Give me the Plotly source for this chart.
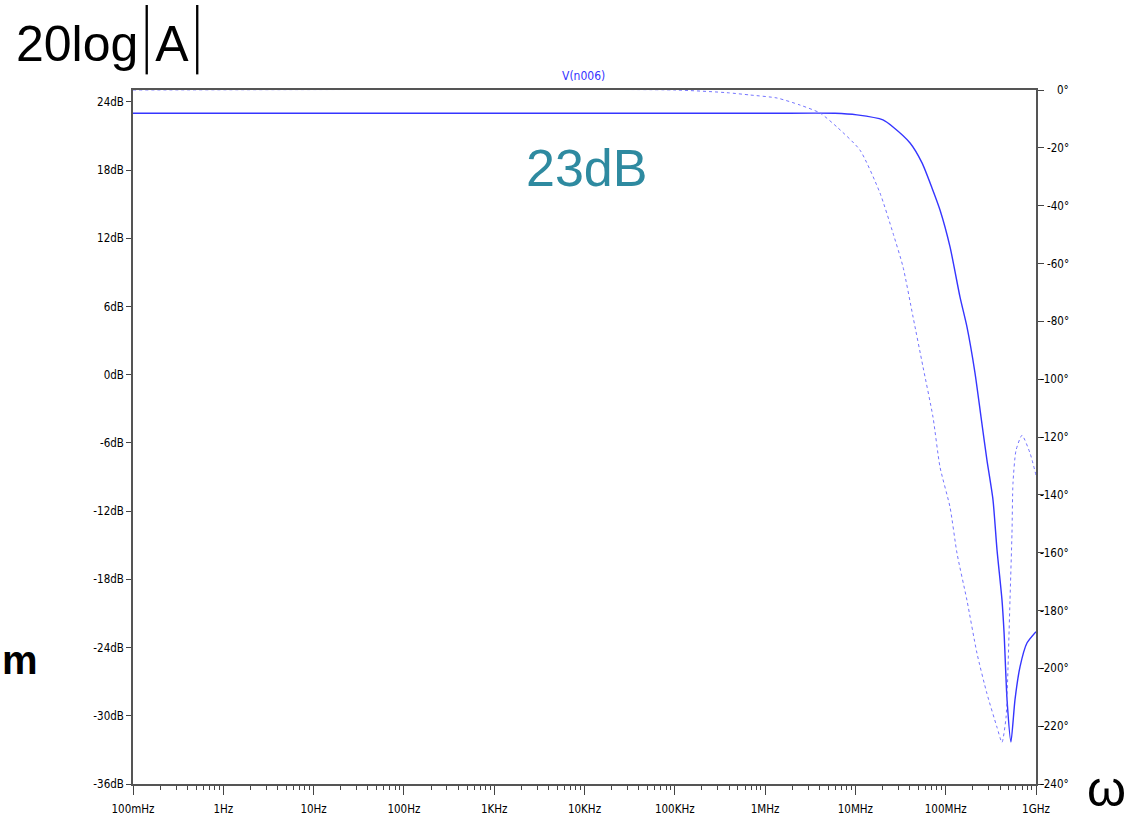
import plotly.graph_objects as go

# Magnitude response of V(n006): frequency (Hz) and gain (dB)
mag_freq = [0.1, 1.0e6, 5.94e6, 1.04e7, 2.02e7, 2.61e7, 4.03e7, 5.47e7, 7.05e7,
            8.65e7, 1.117e8, 1.439e8, 1.72e8, 2.11e8, 2.46e8, 2.86e8, 3.34e8,
            3.70e8, 4.20e8, 4.43e8, 4.78e8, 5.28e8, 5.85e8, 6.65e8, 7.94e8, 1.0e9]
mag_db = [23.0, 23.0, 23.0, 22.86, 22.42, 21.8, 20.39, 18.64, 16.44,
          14.5, 11.25, 6.85, 4.21, 0.17, -3.7, -7.49, -11.0,
          -15.4, -19.8, -22.7, -28.6, -32.3, -28.6, -25.7, -23.6, -22.6]

# Phase response of V(n006): frequency (Hz) and phase (degrees)
ph_freq = [0.1, 1.0e5, 3.78e5, 6.81e5, 1.355e6, 2.43e6, 4.06e6, 6.25e6, 1.125e7,
           1.87e7, 2.61e7, 3.37e7, 4.35e7, 5.61e7, 7.23e7, 8.65e7, 1.117e8,
           1.334e8, 1.72e8, 2.22e8, 2.86e8, 3.70e8, 4.20e8, 4.66e8, 4.90e8,
           5.15e8, 5.42e8, 5.56e8, 6.01e8, 7.00e8, 8.59e8, 1.0e9]
ph_deg = [0.0, 0.0, -0.93, -1.73, -2.77, -5.19, -7.96, -12.8, -20.8,
          -35.6, -49.5, -61.2, -78.5, -95.8, -113.1, -130.4, -144.3,
          -160.2, -176.5, -194.8, -208.7, -220.4, -225.6, -216.9, -199.6,
          -176.5, -153.3, -136.0, -124.6, -119.4, -125.6, -133.2]

# Axis ticks
x_tickvals = [1e-1, 1e0, 1e1, 1e2, 1e3, 1e4, 1e5, 1e6, 1e7, 1e8, 1e9]
x_ticktext = ["100mHz", "1Hz", "10Hz", "100Hz", "1KHz", "10KHz", "100KHz",
              "1MHz", "10MHz", "100MHz", "1GHz"]
db_tickvals = [24, 18, 12, 6, 0, -6, -12, -18, -24, -30, -36]
db_ticktext = [f"{v}dB" for v in db_tickvals]
deg_tickvals = [0, -20, -40, -60, -80, -100, -120, -140, -160, -180, -200, -220, -240]
deg_ticktext = [f"{v}°" for v in deg_tickvals]

W, H = 1130, 819
L, R, T, B = 133, 1036, 90, 784


def px(x, y):
    """Pixel position on the page to paper coordinates."""
    return (x - L) / (R - L), (B - y) / (B - T)


tick_font = dict(family="DejaVu Sans Condensed, Liberation Sans Narrow, sans-serif",
                 size=11.5, color="#000000")

fig = go.Figure()
fig.add_trace(go.Scatter(x=mag_freq, y=mag_db, mode="lines", yaxis="y",
                         line=dict(color="#3535ff", width=1.4, shape="spline", smoothing=0.6),
                         hoverinfo="skip"))
fig.add_trace(go.Scatter(x=ph_freq, y=ph_deg, mode="lines", yaxis="y2",
                         line=dict(color="#7474ff", width=1.0, dash="dot", shape="spline", smoothing=0.6),
                         hoverinfo="skip"))

fig.update_layout(
    width=W, height=H,
    margin=dict(l=L, r=W - R, t=T, b=H - B, autoexpand=False),
    paper_bgcolor="white", plot_bgcolor="white",
    showlegend=False,
    xaxis=dict(type="log", range=[-1, 9], tickvals=x_tickvals, ticktext=x_ticktext,
               ticks="outside", ticklen=9, tickcolor="#444", tickwidth=1,
               ticklabelstandoff=4, automargin=False,
               minor=dict(ticks="outside", ticklen=4, tickcolor="#444", dtick="D1", showgrid=False),
               showgrid=False, zeroline=False, showline=True, mirror=True,
               linecolor="#555", linewidth=1.5, tickfont=tick_font),
    yaxis=dict(range=[-36, 25.05], tickvals=db_tickvals, ticktext=db_ticktext,
               ticks="outside", ticklen=5, tickcolor="#444", automargin=False,
               showgrid=False, zeroline=False, showline=True,
               linecolor="#555", linewidth=1.5, tickfont=tick_font),
    yaxis2=dict(range=[-240, 0], tickvals=deg_tickvals, showticklabels=False,
                overlaying="y", side="right", ticks="outside", ticklen=6, tickcolor="#444",
                automargin=False, showgrid=False, zeroline=False, showline=True,
                linecolor="#555", linewidth=1.5),
)

# Phase axis labels, right-aligned next to the right axis
lab_x, _ = px(1071, 0)
for v, t in zip(deg_tickvals, deg_ticktext):
    fig.add_annotation(text=t, x=lab_x, y=v, xref="paper", yref="y2",
                       xanchor="right", yanchor="middle", showarrow=False,
                       font=tick_font)

bar = "<span style='font-size:58px;font-family:Inter;font-weight:200'>|</span>"
annos = [
    dict(text="V(n006)", pos=(583, 76), size=12, color="#3535ff", weight="normal",
         family="DejaVu Sans Condensed, sans-serif", xanchor="center"),
    dict(text=f"20log{bar}A{bar}", pos=(14, 40), size=50, color="#000000", weight="normal",
         family="Liberation Sans, Arial, sans-serif", xanchor="left"),
    dict(text="23dB", pos=(586, 168), size=52, color="#2e8aa0", weight="normal",
         family="Liberation Sans, Arial, sans-serif", xanchor="center"),
    dict(text="m", pos=(0, 660), size=40, color="#000000", weight="bold",
         family="Liberation Sans, Arial, sans-serif", xanchor="left"),
    dict(text="ω", pos=(1106, 789), size=50, color="#000000", weight="normal",
         family="Liberation Sans, Arial, sans-serif", xanchor="center"),
]
for a in annos:
    ax, ay = px(*a["pos"])
    fig.add_annotation(text=a["text"], x=ax, y=ay, xref="paper", yref="paper",
                       xanchor=a["xanchor"], yanchor="middle", showarrow=False,
                       font=dict(size=a["size"], color=a["color"], family=a["family"],
                                 weight=a["weight"]))

fig.write_html("out.html")
